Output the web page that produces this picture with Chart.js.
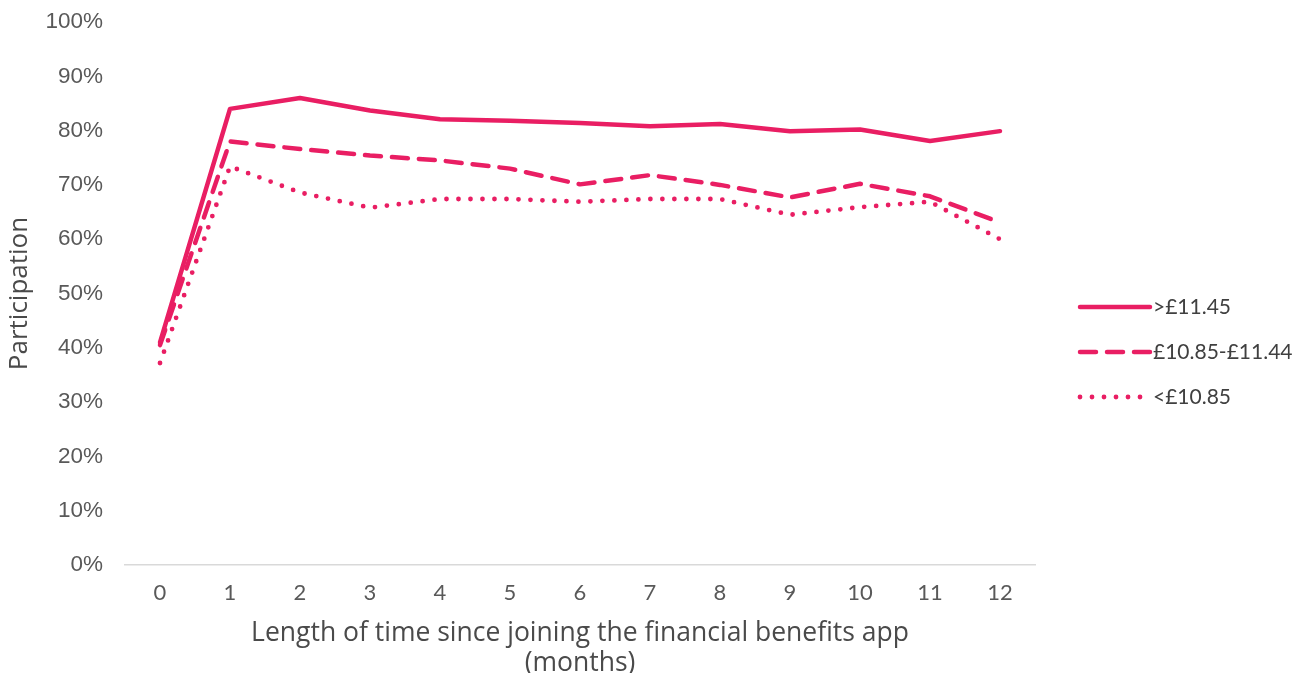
<!DOCTYPE html>
<html>
<head>
<meta charset="utf-8">
<script src="https://cdn.jsdelivr.net/npm/chart.js@4.4.1/dist/chart.umd.min.js"></script>
<style>
  html, body { margin: 0; padding: 0; background: #fff; }
  #wrap { width: 1306px; height: 673px; position: relative; }
</style>
</head>
<body>
<div id="wrap"><canvas id="chart"></canvas></div>
<script>
// Months since joining (x categories)
const months = ['0', '1', '2', '3', '4', '5', '6', '7', '8', '9', '10', '11', '12'];

// Participation (%) by hourly pay band
const payHigh = [41, 84, 86, 83.7, 82.1, 81.8, 81.4, 80.8, 81.2, 79.9, 80.2, 78.1, 79.9];
const payMid  = [40.5, 78, 76.6, 75.4, 74.5, 73, 70.1, 71.8, 70, 67.7, 70.2, 67.9, 63.1];
const payLow  = [37.2, 73.4, 68.6, 65.8, 67.4, 67.4, 66.9, 67.4, 67.4, 64.5, 65.9, 66.9, 60];

const seriesNames = ['>£11.45', '£10.85-£11.44', '<£10.85'];
const yTicks = [0, 10, 20, 30, 40, 50, 60, 70, 80, 90, 100];

const PINK = '#E91E63';
const TEXT = '#595959';
const SANS = '"Open Sans", Lato, sans-serif';

// Legend drawn to the right of the plot, one row per series
const sideLegend = {
  id: 'sideLegend',
  afterDraw(chart) {
    const ctx = chart.ctx;
    const x0 = 1078, len = 72, rowGap = 45;
    const midY = 352;
    const n = chart.data.datasets.length;
    chart.data.datasets.forEach((ds, i) => {
      const y = midY + (i - (n - 1) / 2) * rowGap;
      ctx.save();
      ctx.strokeStyle = ds.borderColor;
      ctx.lineWidth = ds.borderWidth;
      ctx.lineCap = ds.borderCapStyle || 'butt';
      ctx.setLineDash(ds.borderDash || []);
      ctx.beginPath();
      ctx.moveTo(x0 + 2, y);
      ctx.lineTo(x0 + len, y);
      ctx.stroke();
      ctx.restore();
      ctx.save();
      ctx.fillStyle = '#404040';
      ctx.font = '21px Lato, "Open Sans", sans-serif';
      ctx.textBaseline = 'middle';
      ctx.fillText(ds.label, x0 + len + 3, y);
      ctx.restore();
    });
  }
};

new Chart(document.getElementById('chart'), {
  type: 'line',
  data: {
    labels: months,
    datasets: [
      { label: seriesNames[0], data: payHigh, borderColor: PINK, borderWidth: 4.5,
        borderCapStyle: 'round', borderJoinStyle: 'round', pointRadius: 0, tension: 0 },
      { label: seriesNames[1], data: payMid, borderColor: PINK, borderWidth: 4.5,
        borderDash: [16, 11], borderCapStyle: 'round', borderJoinStyle: 'round', pointRadius: 0, tension: 0 },
      { label: seriesNames[2], data: payLow, borderColor: PINK, borderWidth: 4.8,
        borderDash: [0, 12], borderCapStyle: 'round', borderJoinStyle: 'round', pointRadius: 0, tension: 0 }
    ]
  },
  options: {
    responsive: true,
    maintainAspectRatio: false,
    animation: false,
    layout: { padding: { top: 22, right: 271, bottom: 0, left: 4 } },
    plugins: {
      legend: { display: false },
      tooltip: { enabled: false }
    },
    scales: {
      x: {
        type: 'category',
        offset: true,
        afterFit(scale) { scale.height = 108; },
        grid: { display: false, drawTicks: false },
        border: { display: true, color: '#D9D9D9', width: 1.5 },
        ticks: { color: TEXT, font: { family: 'Lato, "Open Sans", sans-serif', size: 22 }, padding: 15, maxRotation: 0 },
        title: {
          display: true,
          text: ['Length of time since joining the financial benefits app', '(months)'],
          color: '#4a4a4a',
          font: { family: SANS, size: 26.5, lineHeight: 1.12 },
          padding: { top: 0, bottom: -5 }
        }
      },
      y: {
        min: 0,
        max: 100,
        afterBuildTicks(axis) { axis.ticks = yTicks.map(v => ({ value: v })); },
        afterFit(scale) {
          scale.width = 121;
          scale.paddingTop = 0;
          scale.paddingBottom = 0;
        },
        grid: { display: false, drawTicks: false },
        border: { display: false },
        ticks: {
          color: TEXT,
          font: { family: '"Liberation Sans", Arial, sans-serif', size: 22.5 },
          padding: 22,
          callback: v => v + '%'
        },
        title: {
          display: true,
          text: 'Participation',
          color: '#4a4a4a',
          font: { family: SANS, size: 26, lineHeight: 1.2 },
          padding: { top: 0, bottom: 0 }
        }
      }
    }
  },
  plugins: [sideLegend]
});
</script>
</body>
</html>
